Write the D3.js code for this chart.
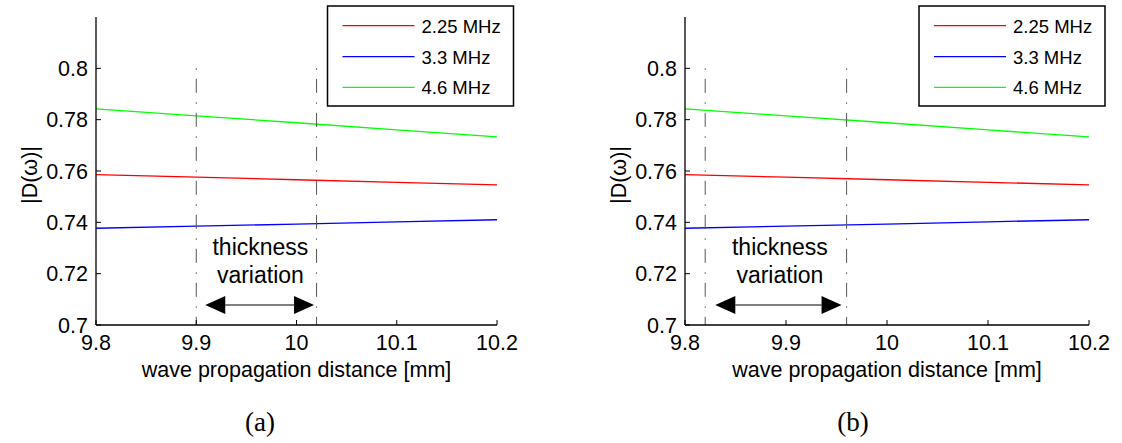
<!DOCTYPE html>
<html>
<head>
<meta charset="utf-8">
<script src="https://cdn.jsdelivr.net/npm/d3@7"></script>
<style>
  html, body { margin: 0; padding: 0; background: #fff; }
  svg { display: block; }
  text { font-family: "Liberation Sans", Arial, sans-serif; fill: #000; }
</style>
</head>
<body>
<svg id="chart" width="1122" height="443"></svg>
<script>
// ---- data ----
const distance = [9.8, 9.9, 10.0, 10.1, 10.2];
const series = ["2.25 MHz", "3.3 MHz", "4.6 MHz"];
const colors = ["#ff0000", "#0000ff", "#00ff00"];
const values225 = [0.7586, 0.7576, 0.7566, 0.7556, 0.7546];
const values33  = [0.7377, 0.7385, 0.7393, 0.7402, 0.7410];
const values46  = [0.7842, 0.7815, 0.7788, 0.7760, 0.7733];
const xTicks = [9.8, 9.9, 10.0, 10.1, 10.2];
const xTickLabels = ["9.8", "9.9", "10", "10.1", "10.2"];
const yTicks = [0.7, 0.72, 0.74, 0.76, 0.78, 0.8];
const yTickLabels = ["0.7", "0.72", "0.74", "0.76", "0.78", "0.8"];
const xDomain = [9.8, 10.2];
const yDomain = [0.7, 0.82];
const captions = ["(a)", "(b)"];
const thicknessBounds = [[9.9, 10.02], [9.82, 9.96]];
const arrowSpan = [[9.909, 10.0175], [9.83, 9.955]];
const annotationLines = ["thickness", "variation"];
const xTitle = "wave propagation distance [mm]";
const yTitle = "|D(\u03c9)|";

const allValues = [values225, values33, values46];

const svg = d3.select("#chart");

const panels = [
  { left: 96, right: 497, legendX: 327.5 },
  { left: 685, right: 1089, legendX: 919 }
];
const plotTop = 17, plotBottom = 325;

panels.forEach((p, pi) => {
  const x = d3.scaleLinear().domain(xDomain).range([p.left, p.right]);
  const y = d3.scaleLinear().domain(yDomain).range([plotBottom, plotTop]);
  const g = svg.append("g");

  // data lines
  const line = d3.line().x((d, i) => x(distance[i])).y(d => y(d));
  allValues.forEach((vals, si) => {
    g.append("path").datum(vals)
      .attr("d", line)
      .attr("fill", "none")
      .attr("stroke", colors[si])
      .attr("stroke-width", 1.3);
  });

  // thickness boundary lines (dash-dot)
  thicknessBounds[pi].forEach(xv => {
    g.append("line")
      .attr("x1", x(xv)).attr("x2", x(xv))
      .attr("y1", y(0.8)).attr("y2", y(0.7))
      .attr("stroke", "#555")
      .attr("stroke-width", 1)
      .attr("stroke-dasharray", "1.5,9,14,9.5");
  });

  // double arrow
  const ay = y(0.7078);
  const [a0, a1] = arrowSpan[pi].map(x);
  const hl = 20, hw = 9;
  g.append("line").attr("x1", a0 + hl).attr("x2", a1 - hl)
    .attr("y1", ay).attr("y2", ay).attr("stroke", "#000").attr("stroke-width", 1.2);
  g.append("path")
    .attr("d", `M${a0},${ay} L${a0 + hl},${ay - hw} L${a0 + hl},${ay + hw} Z`)
    .attr("fill", "#000");
  g.append("path")
    .attr("d", `M${a1},${ay} L${a1 - hl},${ay - hw} L${a1 - hl},${ay + hw} Z`)
    .attr("fill", "#000");

  // annotation text
  const cx = (x(thicknessBounds[pi][0]) + x(thicknessBounds[pi][1])) / 2 + 4;
  const tv = [0.7273, 0.7164];
  annotationLines.forEach((t, i) => {
    g.append("text").attr("x", cx).attr("y", y(tv[i]))
      .attr("text-anchor", "middle")
      .style("font-size", "23px")
      .text(t);
  });

  // axes
  g.append("line").attr("x1", p.left).attr("x2", p.left)
    .attr("y1", plotTop).attr("y2", plotBottom).attr("stroke", "#000").attr("stroke-width", 1.3);
  g.append("line").attr("x1", p.left).attr("x2", p.right)
    .attr("y1", plotBottom).attr("y2", plotBottom).attr("stroke", "#000").attr("stroke-width", 1.3);

  yTicks.forEach((t, i) => {
    g.append("line").attr("x1", p.left).attr("x2", p.left + 5)
      .attr("y1", y(t)).attr("y2", y(t)).attr("stroke", "#000").attr("stroke-width", 1);
    g.append("text").attr("x", p.left - 8).attr("y", y(t) + 7.5)
      .attr("text-anchor", "end").style("font-size", "21.5px").text(yTickLabels[i]);
  });
  xTicks.forEach((t, i) => {
    g.append("line").attr("x1", x(t)).attr("x2", x(t))
      .attr("y1", plotBottom).attr("y2", plotBottom - 5).attr("stroke", "#000").attr("stroke-width", 1);
    g.append("text").attr("x", x(t)).attr("y", plotBottom + 25)
      .attr("text-anchor", "middle").style("font-size", "21.5px").text(xTickLabels[i]);
  });

  g.append("text").attr("x", (p.left + p.right) / 2).attr("y", 377)
    .attr("text-anchor", "middle").style("font-size", "21.5px").text(xTitle);
  g.append("text")
    .attr("transform", `translate(${p.left - 59},${175}) rotate(-90)`)
    .attr("text-anchor", "middle").style("font-size", "21.5px").text(yTitle);

  // legend
  const lx = p.legendX, ly = 6, lw = 186, lh = 100;
  g.append("rect").attr("x", lx).attr("y", ly).attr("width", lw).attr("height", lh)
    .attr("fill", "#fff").attr("stroke", "#000").attr("stroke-width", 1.5);
  const rowY = [25.7, 56.7, 87.3];
  series.forEach((s, si) => {
    g.append("line").attr("x1", lx + 15).attr("x2", lx + 87)
      .attr("y1", rowY[si]).attr("y2", rowY[si])
      .attr("stroke", colors[si]).attr("stroke-width", 1.3);
    g.append("text").attr("x", lx + 94).attr("y", rowY[si] + 7)
      .style("font-size", "18.5px").text(s);
  });

  // caption
  g.append("text").attr("x", pi === 0 ? 260 : 853).attr("y", 431)
    .attr("text-anchor", "middle")
    .style("font-family", "'Liberation Serif', 'DejaVu Serif', serif")
    .style("font-size", "27px").text(captions[pi]);
});
</script>
</body>
</html>
